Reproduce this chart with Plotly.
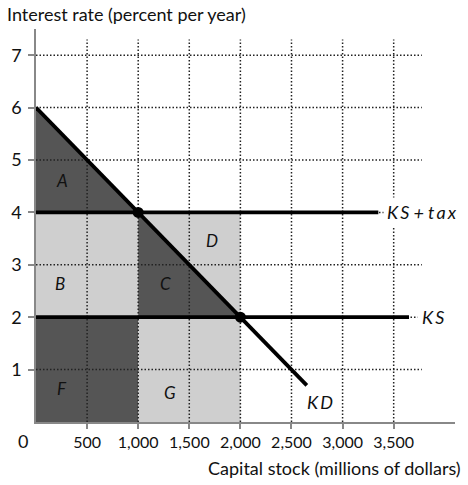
import plotly.graph_objects as go

# capital market with a tax on capital income
capital_ticks = [500, 1000, 1500, 2000, 2500, 3000, 3500]
rate_ticks = [1, 2, 3, 4, 5, 6, 7]

kd_x = [0, 2650]
kd_y = [6, 0.7]
ks_x = [0, 3650]
ks_y = [2, 2]
kstax_x = [0, 3350]
kstax_y = [4, 4]
eq_x = [1000, 2000]
eq_y = [4, 2]

# shaded areas (polygons)
area_a = ([0, 0, 1000], [4, 6, 4])
area_b = ([0, 1000, 1000, 0], [2, 2, 4, 4])
area_c = ([1000, 1000, 2000], [2, 4, 2])
area_d = ([1000, 2000, 2000], [4, 4, 2])
area_f = ([0, 1000, 1000, 0], [0, 0, 2, 2])
area_g = ([1000, 2000, 2000, 1000], [0, 0, 2, 2])

area_labels = ["A", "B", "C", "D", "F", "G"]
label_x = [255, 235, 1265, 1725, 255, 1314]
label_y = [4.6, 2.65, 2.65, 3.47, 0.63, 0.57]

dark = "#555555"
light = "#cfcfcf"
font = "Lato"
ink = "#111"
th = "\u2009"  # thin space, the labels are spaced out

fig = go.Figure()

for (xs, ys), col in [(area_a, dark), (area_b, light), (area_c, dark),
                      (area_d, light), (area_f, dark), (area_g, light)]:
    fig.add_trace(go.Scatter(x=xs, y=ys, fill="toself", fillcolor=col, mode="none",
                             hoverinfo="skip", showlegend=False))

# dotted grid, drawn over the shading
for v in capital_ticks:
    fig.add_trace(go.Scatter(x=[v, v], y=[0, 7.3], mode="lines",
                             line=dict(color="#222", width=1.5, dash="1.5px,2px"),
                             hoverinfo="skip", showlegend=False))
for v in rate_ticks:
    fig.add_trace(go.Scatter(x=[0, 3775], y=[v, v], mode="lines",
                             line=dict(color="#222", width=1.5, dash="1.5px,2px"),
                             hoverinfo="skip", showlegend=False))

for xs, ys in [(kd_x, kd_y), (ks_x, ks_y), (kstax_x, kstax_y)]:
    fig.add_trace(go.Scatter(x=xs, y=ys, mode="lines", line=dict(color="black", width=3.8),
                             showlegend=False))

fig.add_trace(go.Scatter(x=eq_x, y=eq_y, mode="markers",
                         marker=dict(color="black", size=11), showlegend=False))

for t, x, y in zip(area_labels, label_x, label_y):
    fig.add_annotation(x=x, y=y, text="<i>" + t + "</i>", showarrow=False,
                       font=dict(family=font, size=17, color=ink))

fig.add_annotation(x=3395, y=4, text="<i>K" + th + "S + t" + th + "a" + th + "x</i>",
                   showarrow=False, xanchor="left", bgcolor="white", borderpad=3,
                   font=dict(family=font, size=18, color=ink))
fig.add_annotation(x=3725, y=2, text="<i>K" + th + "S</i>", showarrow=False, xanchor="left",
                   bgcolor="white", borderpad=4, font=dict(family=font, size=18, color=ink))
fig.add_annotation(x=2780, y=0.38, text="<i>K" + th + "D</i>", showarrow=False,
                   font=dict(family=font, size=18, color=ink))

fig.add_annotation(x=-0.031, y=-0.048, xref="paper", yref="paper", text="0", showarrow=False,
                   xanchor="center", yanchor="middle", font=dict(family=font, size=18, color=ink))
fig.add_annotation(x=-0.074, y=1.038, xref="paper", yref="paper",
                   text="Interest rate (percent per year)", showarrow=False,
                   xanchor="left", yanchor="middle", font=dict(family=font, size=18, color=ink))
fig.add_annotation(x=1.019, y=-0.117, xref="paper", yref="paper",
                   text="Capital stock (millions of dollars)", showarrow=False,
                   xanchor="right", yanchor="middle", font=dict(family=font, size=18, color=ink))

fig.update_layout(
    width=468, height=485,
    margin=dict(l=36, r=13, t=29, b=63),
    plot_bgcolor="white", paper_bgcolor="white",
    font=dict(family=font, size=16, color=ink),
)
fig.update_xaxes(range=[0, 4100], tickvals=capital_ticks,
                 ticktext=[f"{v:,}" for v in capital_ticks], automargin=False,
                 showgrid=False, zeroline=False, showline=True, linecolor="#888", linewidth=1.5,
                 ticks="outside", ticklen=5, tickcolor="#888", tickwidth=1.5)
fig.update_yaxes(range=[0, 7.5], tickvals=rate_ticks, automargin=False,
                 showgrid=False, zeroline=False, showline=True, linecolor="#888", linewidth=1.5,
                 ticks="outside", ticklen=6, tickcolor="#888", tickwidth=1.5, ticklabelstandoff=3,
                 tickfont=dict(size=18))

# page body has an 8px margin by default; drop it so the figure fills the window
fig.write_html("out.html", config={"displayModeBar": False},
               post_script="document.body.style.margin='0';")
